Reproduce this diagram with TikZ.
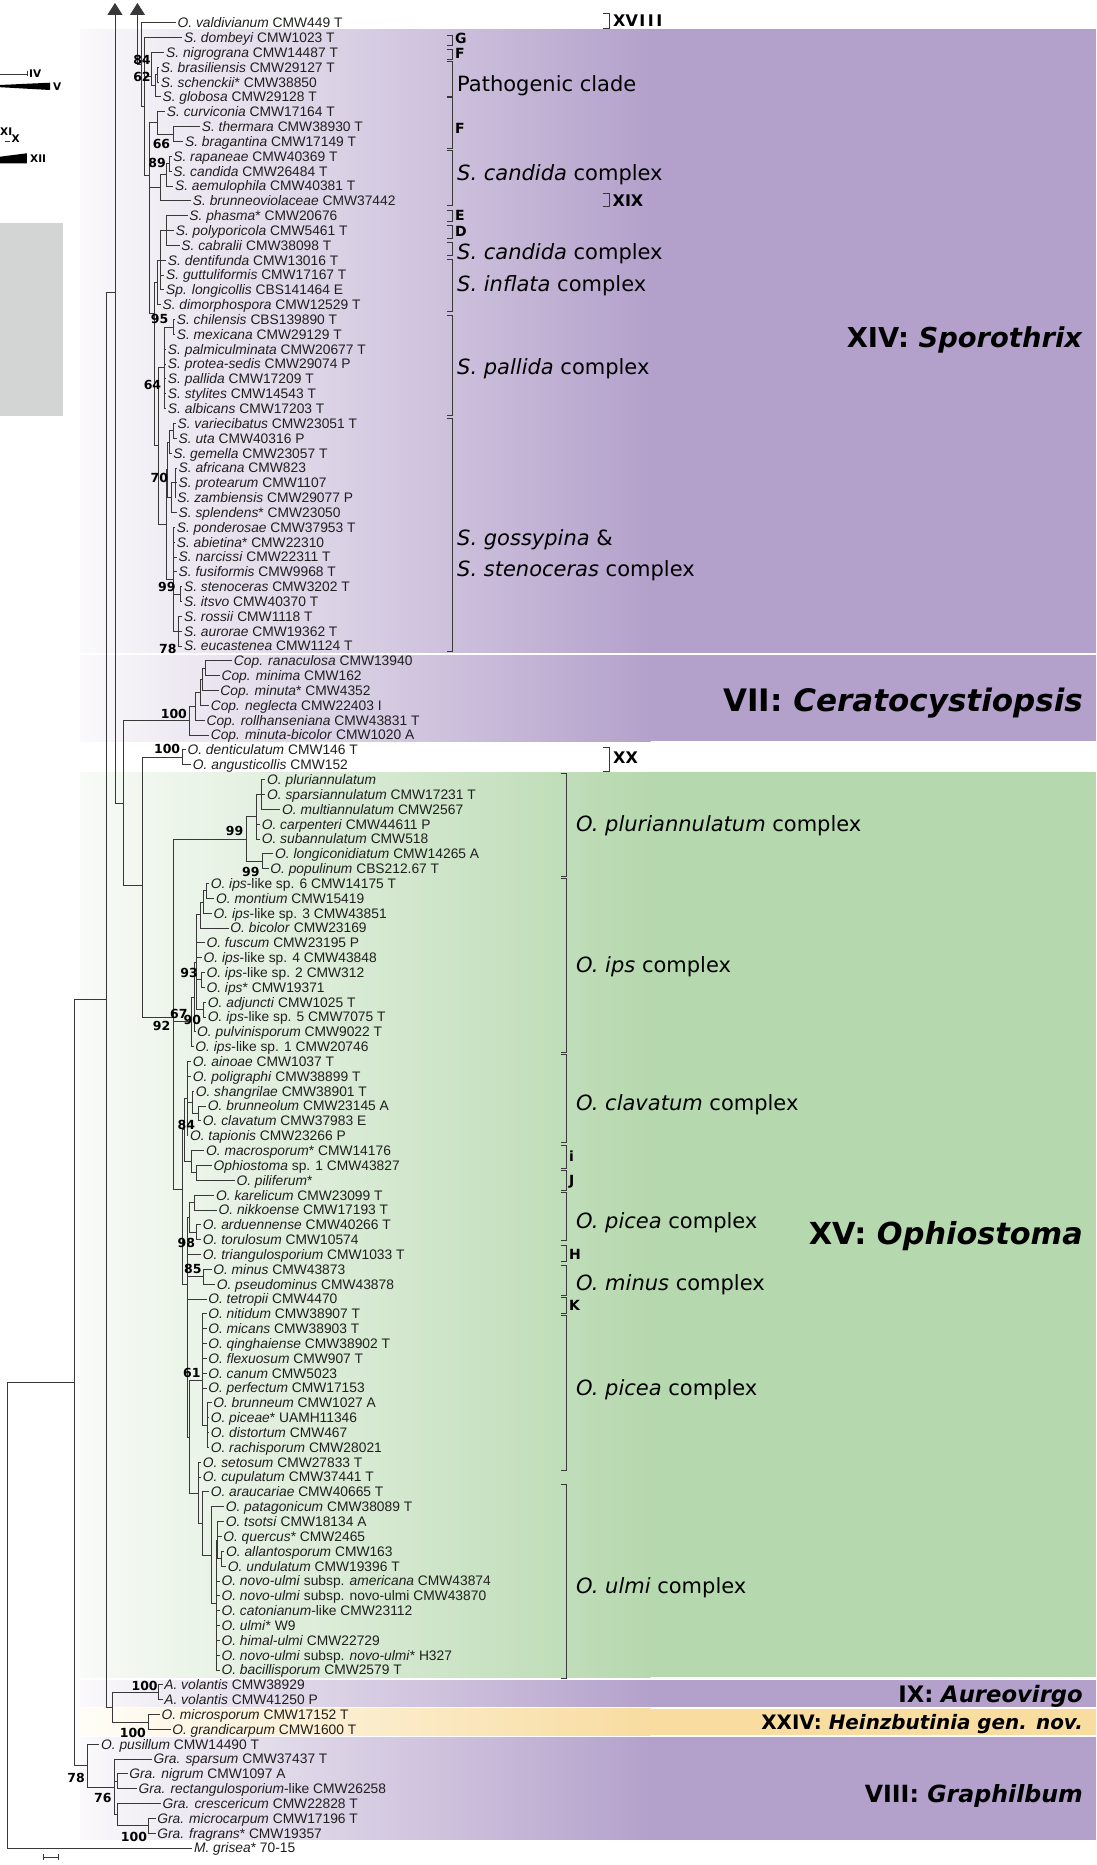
\documentclass[tikz,border=0pt]{standalone}
\usepackage{fontspec}
\setmainfont{Liberation Sans}
\newfontfamily\labfont{DejaVu Sans}
\usetikzlibrary{arrows.meta}

\definecolor{purp}{HTML}{B4A1CB}
\definecolor{purpL}{HTML}{FAF9FB}
\definecolor{grn}{HTML}{B6D8AE}
\definecolor{grnL}{HTML}{F8FBF7}
\definecolor{yel}{HTML}{F8DCA0}
\definecolor{yelL}{HTML}{FFFDF7}
\definecolor{greybox}{HTML}{D3D5D4}
\definecolor{ink}{HTML}{383838}

\tikzset{
  br/.style={draw=ink, line width=0.8pt},
  leaf/.style={anchor=west, inner xsep=1.5pt, inner ysep=0pt, text height=9.9pt, text depth=0pt,
    font=\fontsize{13.8}{14}\selectfont, text=black!88},
  bsl/.style={inner sep=0pt, text height=9.1pt, text depth=0pt, font=\labfont\bfseries\fontsize{12.5}{13}\selectfont},
  brk/.style={draw=ink, line width=0.9pt},
  cplx/.style={anchor=west, inner sep=0pt, text height=15.3pt, text depth=0pt, font=\labfont\fontsize{21}{22}\selectfont},
  letr/.style={anchor=west, inner sep=0pt, text height=10.2pt, text depth=0pt, font=\labfont\bfseries\fontsize{14}{15}\selectfont},
  roman/.style={anchor=west, inner sep=0pt, text height=11.7pt, text depth=0pt, font=\labfont\bfseries\fontsize{16}{17}\selectfont},
  big/.style={anchor=east, inner sep=0pt, text depth=0pt, font=\labfont\bfseries\fontsize{27}{28}\selectfont},
  tinylab/.style={anchor=west, inner sep=0pt, text height=7.5pt, text depth=0pt, font=\labfont\bfseries\fontsize{10.5}{11}\selectfont},
  uparrow/.style={br, -{Triangle[length=12pt,width=15pt]}},
}

% parent -> list of children, drawn as rectangular elbows
\newcommand\kids[2]{\foreach \c in {#2}{\draw[br] (#1) |- (\c);}}
% coloured clade band: top, bottom, colour name
\newcommand\band[3]{%
  \shade[left color=#3L, right color=#3] (80,#1) rectangle (650.5,#2);
  \fill[#3] (650,#1) rectangle (1096,#2);}
% bracket on the right: x of ticks' left end, top, bottom
\newcommand\clbracket[3]{\draw[brk] (#1,#2) -- ++(6,0) |- (#1,#3);}

\begin{document}
\begin{tikzpicture}[x=1pt,y=-1pt]
\useasboundingbox (0,0) rectangle (1096,1865);
\fill[white] (0,0) rectangle (1096,1865);

% ---- clade bands ----
\band{29.3}{652.5}{purp}
\band{655}{741}{purp}
\band{772.3}{1677}{grn}
\band{1680}{1706.5}{purp}
\band{1708.5}{1735}{yel}
\band{1737}{1839.5}{purp}

% ---- collapsed clades at upper left ----
\fill[greybox] (0,222.7) rectangle (63,416);
\draw[br] (0,74) -- (27,74);
\draw[br] (27,71.5) -- (27,76.5);
\node[tinylab] (lIV) at (29,73.5) {IV};
\fill[black] (0,85) -- (50,82.7) -- (50,90) -- (0,87.2) -- cycle;
\node[tinylab] (lV) at (53,86.5) {V};
\node[tinylab] (lXI) at (0,131.7) {XI};
\draw[br] (4.5,141.7) -- (10,141.7);
\node[tinylab] (lX) at (11.5,139) {X};
\fill[black] (0,156.7) -- (26.8,153.3) -- (26.8,163.3) -- (0,163.3) -- cycle;
\node[tinylab] (lXII) at (30,158.3) {XII};

% ---- scale bar ----
\draw[br] (43,1857.3) -- (58.2,1857.3);
\draw[br] (43,1854.3) -- (43,1860.3);
\draw[br] (58.2,1854.3) -- (58.2,1860.3);

% ---- tree ----
\begin{scope}[x=1.0714pt, y=-14.84pt, yshift=-7.86pt]
% taxa
\node[leaf] (t1) at (164.2,1) {\textit{O. valdivianum} CMW449 T};
\node[leaf] (t2) at (170.2,2) {\textit{S. dombeyi} CMW1023 T};
\node[leaf] (t3) at (153.5,3) {\textit{S. nigrograna} CMW14487 T};
\node[leaf] (t4) at (148.5,4) {\textit{S. brasiliensis} CMW29127 T};
\node[leaf] (t5) at (148.5,5) {\textit{S. schenckii}* CMW38850};
\node[leaf] (t6) at (150.2,6) {\textit{S. globosa} CMW29128 T};
\node[leaf] (t7) at (154.2,7) {\textit{S. curviconia} CMW17164 T};
\node[leaf] (t8) at (186.8,8) {\textit{S. thermara} CMW38930 T};
\node[leaf] (t9) at (171.2,9) {\textit{S. bragantina} CMW17149 T};
\node[leaf] (t10) at (160.2,10) {\textit{S. rapaneae} CMW40369 T};
\node[leaf] (t11) at (160.2,11) {\textit{S. candida} CMW26484 T};
\node[leaf] (t12) at (161.8,12) {\textit{S. aemulophila} CMW40381 T};
\node[leaf] (t13) at (178.5,13) {\textit{S. brunneoviolaceae} CMW37442};
\node[leaf] (t14) at (175.2,14) {\textit{S. phasma}* CMW20676};
\node[leaf] (t15) at (162.5,15) {\textit{S. polyporicola} CMW5461 T};
\node[leaf] (t16) at (167.8,16) {\textit{S. cabralii} CMW38098 T};
\node[leaf] (t17) at (155.2,17) {\textit{S. dentifunda} CMW13016 T};
\node[leaf] (t18) at (153.5,18) {\textit{S. guttuliformis} CMW17167 T};
\node[leaf] (t19) at (153.5,19) {\textit{Sp. longicollis} CBS141464 E};
\node[leaf] (t20) at (150.2,20) {\textit{S. dimorphospora} CMW12529 T};
\node[leaf] (t21) at (163.5,21) {\textit{S. chilensis} CBS139890 T};
\node[leaf] (t22) at (163.5,22) {\textit{S. mexicana} CMW29129 T};
\node[leaf] (t23) at (155.2,23) {\textit{S. palmiculminata} CMW20677 T};
\node[leaf] (t24) at (155.2,24) {\textit{S. protea-sedis} CMW29074 P};
\node[leaf] (t25) at (155.2,25) {\textit{S. pallida} CMW17209 T};
\node[leaf] (t26) at (155.2,26) {\textit{S. stylites} CMW14543 T};
\node[leaf] (t27) at (155.2,27) {\textit{S. albicans} CMW17203 T};
\node[leaf] (t28) at (164.2,28) {\textit{S. variecibatus} CMW23051 T};
\node[leaf] (t29) at (165.2,29) {\textit{S. uta} CMW40316 P};
\node[leaf] (t30) at (160.2,30) {\textit{S. gemella} CMW23057 T};
\node[leaf] (t31) at (165.2,31) {\textit{S. africana} CMW823};
\node[leaf] (t32) at (165.2,32) {\textit{S. protearum} CMW1107};
\node[leaf] (t33) at (164.0,33) {\textit{S. zambiensis} CMW29077 P};
\node[leaf] (t34) at (165.2,34) {\textit{S. splendens}* CMW23050};
\node[leaf] (t35) at (163.5,35) {\textit{S. ponderosae} CMW37953 T};
\node[leaf] (t36) at (163.5,36) {\textit{S. abietina}* CMW22310};
\node[leaf] (t37) at (165.2,37) {\textit{S. narcissi} CMW22311 T};
\node[leaf] (t38) at (165.2,38) {\textit{S. fusiformis} CMW9968 T};
\node[leaf] (t39) at (170.2,39) {\textit{S. stenoceras} CMW3202 T};
\node[leaf] (t40) at (170.2,40) {\textit{S. itsvo} CMW40370 T};
\node[leaf] (t41) at (170.2,41) {\textit{S. rossii} CMW1118 T};
\node[leaf] (t42) at (170.2,42) {\textit{S. aurorae} CMW19362 T};
\node[leaf] (t43) at (170.2,43) {\textit{S. eucastenea} CMW1124 T};
\node[leaf] (t44) at (216.8,44) {\textit{Cop. ranaculosa} CMW13940};
\node[leaf] (t45) at (205.2,45) {\textit{Cop. minima} CMW162};
\node[leaf] (t46) at (204.2,46) {\textit{Cop. minuta}* CMW4352};
\node[leaf] (t47) at (195.2,47) {\textit{Cop. neglecta} CMW22403 I};
\node[leaf] (t48) at (191.2,48) {\textit{Cop. rollhanseniana} CMW43831 T};
\node[leaf] (t49) at (195.2,49) {\textit{Cop. minuta-bicolor} CMW1020 A};
\node[leaf] (t50) at (173.5,50) {\textit{O. denticulatum} CMW146 T};
\node[leaf] (t51) at (178.5,51) {\textit{O. angusticollis} CMW152};
\node[leaf] (t52) at (247.8,52) {\textit{O. pluriannulatum}};
\node[leaf] (t53) at (247.8,53) {\textit{O. sparsiannulatum} CMW17231 T};
\node[leaf] (t54) at (261.8,54) {\textit{O. multiannulatum} CMW2567};
\node[leaf] (t55) at (242.8,55) {\textit{O. carpenteri} CMW44611 P};
\node[leaf] (t56) at (242.8,56) {\textit{O. subannulatum} CMW518};
\node[leaf] (t57) at (255.2,57) {\textit{O. longiconidiatum} CMW14265 A};
\node[leaf] (t58) at (250.8,58) {\textit{O. populinum} CBS212.67 T};
\node[leaf] (t59) at (195.2,59) {\textit{O. ips}-like sp. 6 CMW14175 T};
\node[leaf] (t60) at (200.2,60) {\textit{O. montium} CMW15419};
\node[leaf] (t61) at (197.8,61) {\textit{O. ips}-like sp. 3 CMW43851};
\node[leaf] (t62) at (213.5,62) {\textit{O. bicolor} CMW23169};
\node[leaf] (t63) at (191.2,63) {\textit{O. fuscum} CMW23195 P};
\node[leaf] (t64) at (188.5,64) {\textit{O. ips}-like sp. 4 CMW43848};
\node[leaf] (t65) at (191.2,65) {\textit{O. ips}-like sp. 2 CMW312};
\node[leaf] (t66) at (191.2,66) {\textit{O. ips}* CMW19371};
\node[leaf] (t67) at (192.5,67) {\textit{O. adjuncti} CMW1025 T};
\node[leaf] (t68) at (192.5,68) {\textit{O. ips}-like sp. 5 CMW7075 T};
\node[leaf] (t69) at (182.5,69) {\textit{O. pulvinisporum} CMW9022 T};
\node[leaf] (t70) at (180.8,70) {\textit{O. ips}-like sp. 1 CMW20746};
\node[leaf] (t71) at (178.5,71) {\textit{O. ainoae} CMW1037 T};
\node[leaf] (t72) at (178.5,72) {\textit{O. poligraphi} CMW38899 T};
\node[leaf] (t73) at (181.2,73) {\textit{O. shangrilae} CMW38901 T};
\node[leaf] (t74) at (192.5,74) {\textit{O. brunneolum} CMW23145 A};
\node[leaf] (t75) at (187.8,75) {\textit{O. clavatum} CMW37983 E};
\node[leaf] (t76) at (175.8,76) {\textit{O. tapionis} CMW23266 P};
\node[leaf] (t77) at (190.8,77) {\textit{O. macrosporum}* CMW14176};
\node[leaf] (t78) at (197.8,78) {\textit{Ophiostoma} sp. 1 CMW43827};
\node[leaf] (t79) at (219.2,79) {\textit{O. piliferum}*};
\node[leaf] (t80) at (200.2,80) {\textit{O. karelicum} CMW23099 T};
\node[leaf] (t81) at (202.5,81) {\textit{O. nikkoense} CMW17193 T};
\node[leaf] (t82) at (187.8,82) {\textit{O. arduennense} CMW40266 T};
\node[leaf] (t83) at (187.8,83) {\textit{O. torulosum} CMW10574};
\node[leaf] (t84) at (187.8,84) {\textit{O. triangulosporium} CMW1033 T};
\node[leaf] (t85) at (197.5,85) {\textit{O. minus} CMW43873};
\node[leaf] (t86) at (200.8,86) {\textit{O. pseudominus} CMW43878};
\node[leaf] (t87) at (192.8,87) {\textit{O. tetropii} CMW4470};
\node[leaf] (t88) at (192.8,88) {\textit{O. nitidum} CMW38907 T};
\node[leaf] (t89) at (192.8,89) {\textit{O. micans} CMW38903 T};
\node[leaf] (t90) at (192.8,90) {\textit{O. qinghaiense} CMW38902 T};
\node[leaf] (t91) at (192.8,91) {\textit{O. flexuosum} CMW907 T};
\node[leaf] (t92) at (192.8,92) {\textit{O. canum} CMW5023};
\node[leaf] (t93) at (192.8,93) {\textit{O. perfectum} CMW17153};
\node[leaf] (t94) at (197.5,94) {\textit{O. brunneum} CMW1027 A};
\node[leaf] (t95) at (195.2,95) {\textit{O. piceae}* UAMH11346};
\node[leaf] (t96) at (195.2,96) {\textit{O. distortum} CMW467};
\node[leaf] (t97) at (195.2,97) {\textit{O. rachisporum} CMW28021};
\node[leaf] (t98) at (187.8,98) {\textit{O. setosum} CMW27833 T};
\node[leaf] (t99) at (187.8,99) {\textit{O. cupulatum} CMW37441 T};
\node[leaf] (t100) at (195.2,100) {\textit{O. araucariae} CMW40665 T};
\node[leaf] (t101) at (209.2,101) {\textit{O. patagonicum} CMW38089 T};
\node[leaf] (t102) at (209.2,102) {\textit{O. tsotsi} CMW18134 A};
\node[leaf] (t103) at (206.8,103) {\textit{O. quercus}* CMW2465};
\node[leaf] (t104) at (209.5,104) {\textit{O. allantosporum} CMW163};
\node[leaf] (t105) at (211.2,105) {\textit{O. undulatum} CMW19396 T};
\node[leaf] (t106) at (205.2,106) {\textit{O. novo-ulmi} subsp. \textit{americana} CMW43874};
\node[leaf] (t107) at (205.2,107) {\textit{O. novo-ulmi} subsp. novo-ulmi CMW43870};
\node[leaf] (t108) at (205.2,108) {\textit{O. catonianum}-like CMW23112};
\node[leaf] (t109) at (205.2,109) {\textit{O. ulmi}* W9};
\node[leaf] (t110) at (205.2,110) {\textit{O. himal-ulmi} CMW22729};
\node[leaf] (t111) at (205.2,111) {\textit{O. novo-ulmi} subsp. \textit{novo-ulmi}* H327};
\node[leaf] (t112) at (205.2,112) {\textit{O. bacillisporum} CMW2579 T};
\node[leaf] (t113) at (151.8,113) {\textit{A. volantis} CMW38929};
\node[leaf] (t114) at (151.8,114) {\textit{A. volantis} CMW41250 P};
\node[leaf] (t115) at (149.2,115) {\textit{O. microsporum} CMW17152 T};
\node[leaf] (t116) at (159.2,116) {\textit{O. grandicarpum} CMW1600 T};
\node[leaf] (t117) at (92.8,117) {\textit{O. pusillum} CMW14490 T};
\node[leaf] (t118) at (141.8,118) {\textit{Gra. sparsum} CMW37437 T};
\node[leaf] (t119) at (119.2,119) {\textit{Gra. nigrum} CMW1097 A};
\node[leaf] (t120) at (127.8,120) {\textit{Gra. rectangulosporium}-like CMW26258};
\node[leaf] (t121) at (150.2,121) {\textit{Gra. crescericum} CMW22828 T};
\node[leaf] (t122) at (145.2,122) {\textit{Gra. microcarpum} CMW17196 T};
\node[leaf] (t123) at (145.2,123) {\textit{Gra. fragrans}* CMW19357};
\node[leaf] (t124) at (179.5,124) {\textit{M. grisea}* 70-15};

% internal nodes
\coordinate (topA) at (107.3,-0.33);
\coordinate (topB) at (128.3,-0.33);
\coordinate (B) at (128.3,3.83);
\coordinate (C) at (131.6,3.83);
\coordinate (D) at (134.7,6.66);
\coordinate (S1) at (141.7,4.6);
\coordinate (sbsg) at (145,5.25);
\coordinate (sbs) at (147,4.5);
\coordinate (D2) at (139.3,11.3);
\coordinate (F) at (146.7,7.75);
\coordinate (f1) at (162.3,8.5);
\coordinate (cd3) at (150,12.1);
\coordinate (cd2) at (155,11.25);
\coordinate (cd1) at (158.3,10.5);
\coordinate (X1) at (144,20.6);
\coordinate (e4) at (147,18.5);
\coordinate (e3) at (150,17);
\coordinate (e1) at (155,15);
\coordinate (PG) at (148.3,29.5);
\coordinate (pa2) at (153.3,24.25);
\coordinate (pa1) at (161.7,21.5);
\coordinate (g8) at (155,34.8);
\coordinate (g5) at (156.7,31.1);
\coordinate (g2) at (158.3,29.25);
\coordinate (g1) at (161.7,28.5);
\coordinate (g4) at (160,33);
\coordinate (g3) at (163.3,32);
\coordinate (g7) at (162,38.5);
\coordinate (s1) at (168.3,39.5);
\coordinate (s2) at (166.7,42);
\coordinate (A) at (107.3,19.17);
\coordinate (P) at (99.3,66.8);
\coordinate (K) at (115,53.6);
\coordinate (c5) at (176.7,48.0);
\coordinate (c4) at (182,47.05);
\coordinate (c3) at (186.7,46.1);
\coordinate (c2) at (189,45.25);
\coordinate (c1) at (191.7,44.5);
\coordinate (L) at (132.7,59.13);
\coordinate (XX) at (170,50.5);
\coordinate (M) at (161.7,68.0);
\coordinate (N) at (230,56);
\coordinate (N1) at (239.3,54.5);
\coordinate (na) at (244.3,53);
\coordinate (N2) at (245,57.5);
\coordinate (I) at (178.3,68.3);
\coordinate (i7) at (181.7,66.65);
\coordinate (i4) at (183.3,64.3);
\coordinate (i3) at (187.3,61.1);
\coordinate (i2) at (190,60.25);
\coordinate (i1) at (193,59.5);
\coordinate (i5) at (188.3,65.5);
\coordinate (i6) at (190,67.5);
\coordinate (O) at (170.7,79.6);
\coordinate (k4) at (172,75.6);
\coordinate (k3) at (175,73.5);
\coordinate (k2) at (180,73.75);
\coordinate (k1) at (185,74.5);
\coordinate (p2) at (178.3,77.75);
\coordinate (p1) at (183.3,78.5);
\coordinate (q5) at (175,86);
\coordinate (q3) at (176.7,81.5);
\coordinate (q1) at (181.7,80.5);
\coordinate (q2) at (183.3,82.5);
\coordinate (q4) at (190,85.5);
\coordinate (q9) at (176.7,96.3);
\coordinate (q6) at (189.3,92.5);
\coordinate (q7) at (193.3,95.5);
\coordinate (q8) at (185,100.1);
\coordinate (u6) at (189.3,102.15);
\coordinate (u5) at (197.3,104.3);
\coordinate (u4) at (201.7,107.5);
\coordinate (u3) at (203.3,103.25);
\coordinate (u2) at (206.7,104.5);
\coordinate (Q) at (105,114.5);
\coordinate (AV) at (148.3,113.5);
\coordinate (HB) at (138.3,115.5);
\coordinate (R) at (69,92.6);
\coordinate (Gn) at (81.7,118.4);
\coordinate (G0) at (106.7,119.9);
\coordinate (G2) at (110,119.5);
\coordinate (G3) at (110,121.75);
\coordinate (G4) at (138.3,122.5);
\coordinate (T) at (7,108.3);

% branches
\draw[uparrow] (A) -- (topA);
\draw[uparrow] (B) -- (topB);
\draw[br] (B) -- (C);
\kids{C}{t1.west,D}
\kids{D}{t2.west,S1,D2}
\kids{S1}{t3.west,sbsg}
\kids{sbsg}{sbs,t6.west}
\kids{sbs}{t4.west,t5.west}
\kids{D2}{F,cd3,X1}
\kids{F}{t7.west,f1}
\kids{f1}{t8.west,t9.west}
\kids{cd3}{cd2,t13.west}
\kids{cd2}{cd1,t12.west}
\kids{cd1}{t10.west,t11.west}
\kids{X1}{e4,PG}
\kids{e4}{e3,t20.west}
\kids{e3}{e1,t17.west,t18.west,t19.west}
\kids{e1}{t14.west,t15.west,t16.west}
\kids{PG}{pa2,g8}
\kids{pa2}{pa1,t23.west,t24.west,t25.west,t26.west,t27.west}
\kids{pa1}{t21.west,t22.west}
\kids{g8}{g5,g7}
\kids{g5}{g2,g4}
\kids{g2}{g1,t30.west}
\kids{g1}{t28.west,t29.west}
\kids{g4}{g3,t34.west}
\kids{g3}{t31.west,t32.west,t33.west}
\kids{g7}{t35.west,t36.west,t37.west,t38.west,s1,s2}
\kids{s1}{t39.west,t40.west}
\kids{s2}{t41.west,t42.west,t43.west}
\kids{A}{K}
\kids{P}{A,Q}
\kids{K}{c5,L}
\kids{c5}{c4,t49.west}
\kids{c4}{c3,t48.west}
\kids{c3}{c2,t47.west}
\kids{c2}{c1,t46.west}
\kids{c1}{t44.west,t45.west}
\kids{L}{XX,M}
\kids{XX}{t50.west,t51.west}
\kids{M}{N,I,O}
\kids{N}{N1,N2}
\kids{N1}{na,t55.west,t56.west}
\kids{na}{t52.west,t53.west,t54.west}
\kids{N2}{t57.west,t58.west}
\kids{I}{i7,t70.west}
\kids{i7}{i4,t69.west}
\kids{i4}{i3,t63.west,t64.west,i5,i6}
\kids{i3}{i2,t62.west}
\kids{i2}{i1,t61.west}
\kids{i1}{t59.west,t60.west}
\kids{i5}{t65.west,t66.west}
\kids{i6}{t67.west,t68.west}
\kids{O}{k4,q5}
\kids{k4}{k3,p2}
\kids{k3}{t71.west,t72.west,k2,t76.west}
\kids{k2}{t73.west,k1}
\kids{k1}{t74.west,t75.west}
\kids{p2}{t77.west,p1}
\kids{p1}{t78.west,t79.west}
\kids{q5}{q3,t84.west,q4,t87.west,q9}
\kids{q3}{q1,q2}
\kids{q1}{t80.west,t81.west}
\kids{q2}{t82.west,t83.west}
\kids{q4}{t85.west,t86.west}
\kids{q9}{q6,q8}
\kids{q6}{t88.west,t89.west,t90.west,t91.west,t92.west,t93.west,q7}
\kids{q7}{t94.west,t95.west,t96.west,t97.west}
\kids{q8}{t98.west,t99.west,u6}
\kids{u6}{t100.west,u5}
\kids{u5}{t101.west,u4}
\kids{u4}{u3,t106.west,t107.west,t108.west,t109.west,t110.west,t111.west,t112.west}
\kids{u3}{t102.west,t103.west,u2}
\kids{u2}{t104.west,t105.west}
\kids{Q}{AV,HB}
\kids{AV}{t113.west,t114.west}
\kids{HB}{t115.west,t116.west}
\kids{R}{P,Gn}
\kids{Gn}{t117.west,G0}
\kids{G0}{t118.west,G2,G3}
\kids{G2}{t119.west,t120.west}
\kids{G3}{t121.west,G4}
\kids{G4}{t122.west,t123.west}
\kids{T}{R,t124.west}

% bootstrap support
\node[bsl] (b1) at (132.5,3.5) {84};
\node[bsl] (b2) at (132.5,4.65) {62};
\node[bsl] (b3) at (150.7,9.19) {66};
\node[bsl] (b4) at (146.7,10.48) {89};
\node[bsl] (b5) at (149,20.97) {95};
\node[bsl] (b6) at (142.3,25.41) {64};
\node[bsl] (b7) at (148.7,31.7) {70};
\node[bsl] (b8) at (155.7,39.0) {99};
\node[bsl] (b9) at (156.7,43.2) {78};
\node[bsl] (b10) at (162.3,47.55) {100};
\node[bsl] (b11) at (156,49.96) {100};
\node[bsl] (b12) at (219,55.45) {99};
\node[bsl] (b13) at (234.2,58.2) {99};
\node[bsl] (b14) at (176.5,65.02) {93};
\node[bsl] (b15) at (167,67.82) {67};
\node[bsl] (b16) at (179.6,68.2) {90};
\node[bsl] (b17) at (150.9,68.6) {92};
\node[bsl] (b18) at (174,75.28) {84};
\node[bsl] (b19) at (174,83.2) {98};
\node[bsl] (b20) at (180,85.0) {85};
\node[bsl] (b21) at (179,91.97) {61};
\node[bsl] (b22) at (135,113.06) {100};
\node[bsl] (b23) at (124,116.27) {100};
\node[bsl] (b24) at (71,119.26) {78};
\node[bsl] (b25) at (96,120.6) {76};
\node[bsl] (b26) at (125,123.24) {100};
\end{scope}

% ---- lineage brackets and names ----
\clbracket{603}{13.3}{28.3}
\node[roman] (nXVIII) at (613,20.7) {XV\hspace{1.5pt}I\hspace{2.5pt}I\hspace{2.5pt}I};
\clbracket{603}{193.3}{206.7}
\node[roman] (nXIX) at (612.5,200.8) {XIX};
\clbracket{603}{747}{771}
\node[roman] (nXX) at (613,758) {XX};

\clbracket{446.5}{35}{45}
\node[letr] (lG) at (455,38.8) {G};
\clbracket{446.5}{49}{59.5}
\node[letr] (lF1) at (455,53.8) {F};
\clbracket{446.5}{61}{96}
\node[cplx] (cPath) at (457,84) {Pathogenic clade};
\clbracket{446.5}{97.5}{148.3}
\node[letr] (lF2) at (455,128.3) {F};
\clbracket{446.5}{150}{205}
\node[cplx] (cCand1) at (457,173) {\textit{S. candida} complex};
\clbracket{446.5}{210}{221.7}
\node[letr] (lE) at (455,215.8) {E};
\clbracket{446.5}{225}{238.3}
\node[letr] (lD) at (455,231) {D};
\clbracket{446.5}{242.3}{255}
\node[cplx] (cCand2) at (457,252) {\textit{S. candida} complex};
\clbracket{446.5}{259}{311}
\node[cplx] (cInfl) at (457,284) {\textit{S. inflata} complex};
\clbracket{446.5}{315}{415}
\node[cplx] (cPall) at (457,367) {\textit{S. pallida} complex};
\clbracket{446.5}{418}{651.7}
\node[cplx] (cGoss) at (457,538) {\textit{S. gossypina} \&};
\node[cplx] (cSten) at (457,569) {\textit{S. stenoceras} complex};

\clbracket{560.5}{773.5}{876}
\node[cplx] (cPluri) at (576,823.5) {\textit{O. pluriannulatum} complex};
\clbracket{560.5}{878}{1052}
\node[cplx] (cIps) at (576,965) {\textit{O. ips} complex};
\clbracket{560.5}{1054}{1142}
\node[cplx] (cClav) at (576,1103) {\textit{O. clavatum} complex};
\clbracket{560.5}{1145}{1168}
\node[letr] (li) at (569,1156) {i};
\clbracket{560.5}{1170}{1190}
\node[letr] (lJ) at (569,1180) {J};
\clbracket{560.5}{1192.5}{1240}
\node[cplx] (cPic1) at (576,1221) {\textit{O. picea} complex};
\clbracket{560.5}{1245}{1261}
\node[letr] (lH) at (569,1254.4) {H};
\clbracket{560.5}{1265}{1295}
\node[cplx] (cMin) at (576,1283) {\textit{O. minus} complex};
\clbracket{560.5}{1297}{1313}
\node[letr] (lK) at (569,1305) {K};
\clbracket{560.5}{1315}{1470}
\node[cplx] (cPic2) at (576,1387.5) {\textit{O. picea} complex};
\clbracket{560.5}{1484}{1678}
\node[cplx] (cUlmi) at (576,1586) {\textit{O. ulmi} complex};

% ---- genus names ----
\node[big] (gSpo) at (1083,337) {\resizebox{236pt}{!}{XIV: \textit{Sporothrix}}};
\node[big] (gCer) at (1083,700) {\resizebox{359.5pt}{!}{VII: \textit{Ceratocystiopsis}}};
\node[big] (gOph) at (1083,1233) {\resizebox{274pt}{!}{XV: \textit{Ophiostoma}}};
\node[big] (gAur) at (1083,1693.5) {\resizebox{184.5pt}{!}{IX: \textit{Aureovirgo}}};
\node[big] (gHei) at (1083,1722) {\resizebox{321.4pt}{!}{XXIV: \textit{Heinzbutinia gen. nov.}}};
\node[big] (gGra) at (1083,1793) {\resizebox{218pt}{!}{VIII: \textit{Graphilbum}}};
\end{tikzpicture}
\end{document}
